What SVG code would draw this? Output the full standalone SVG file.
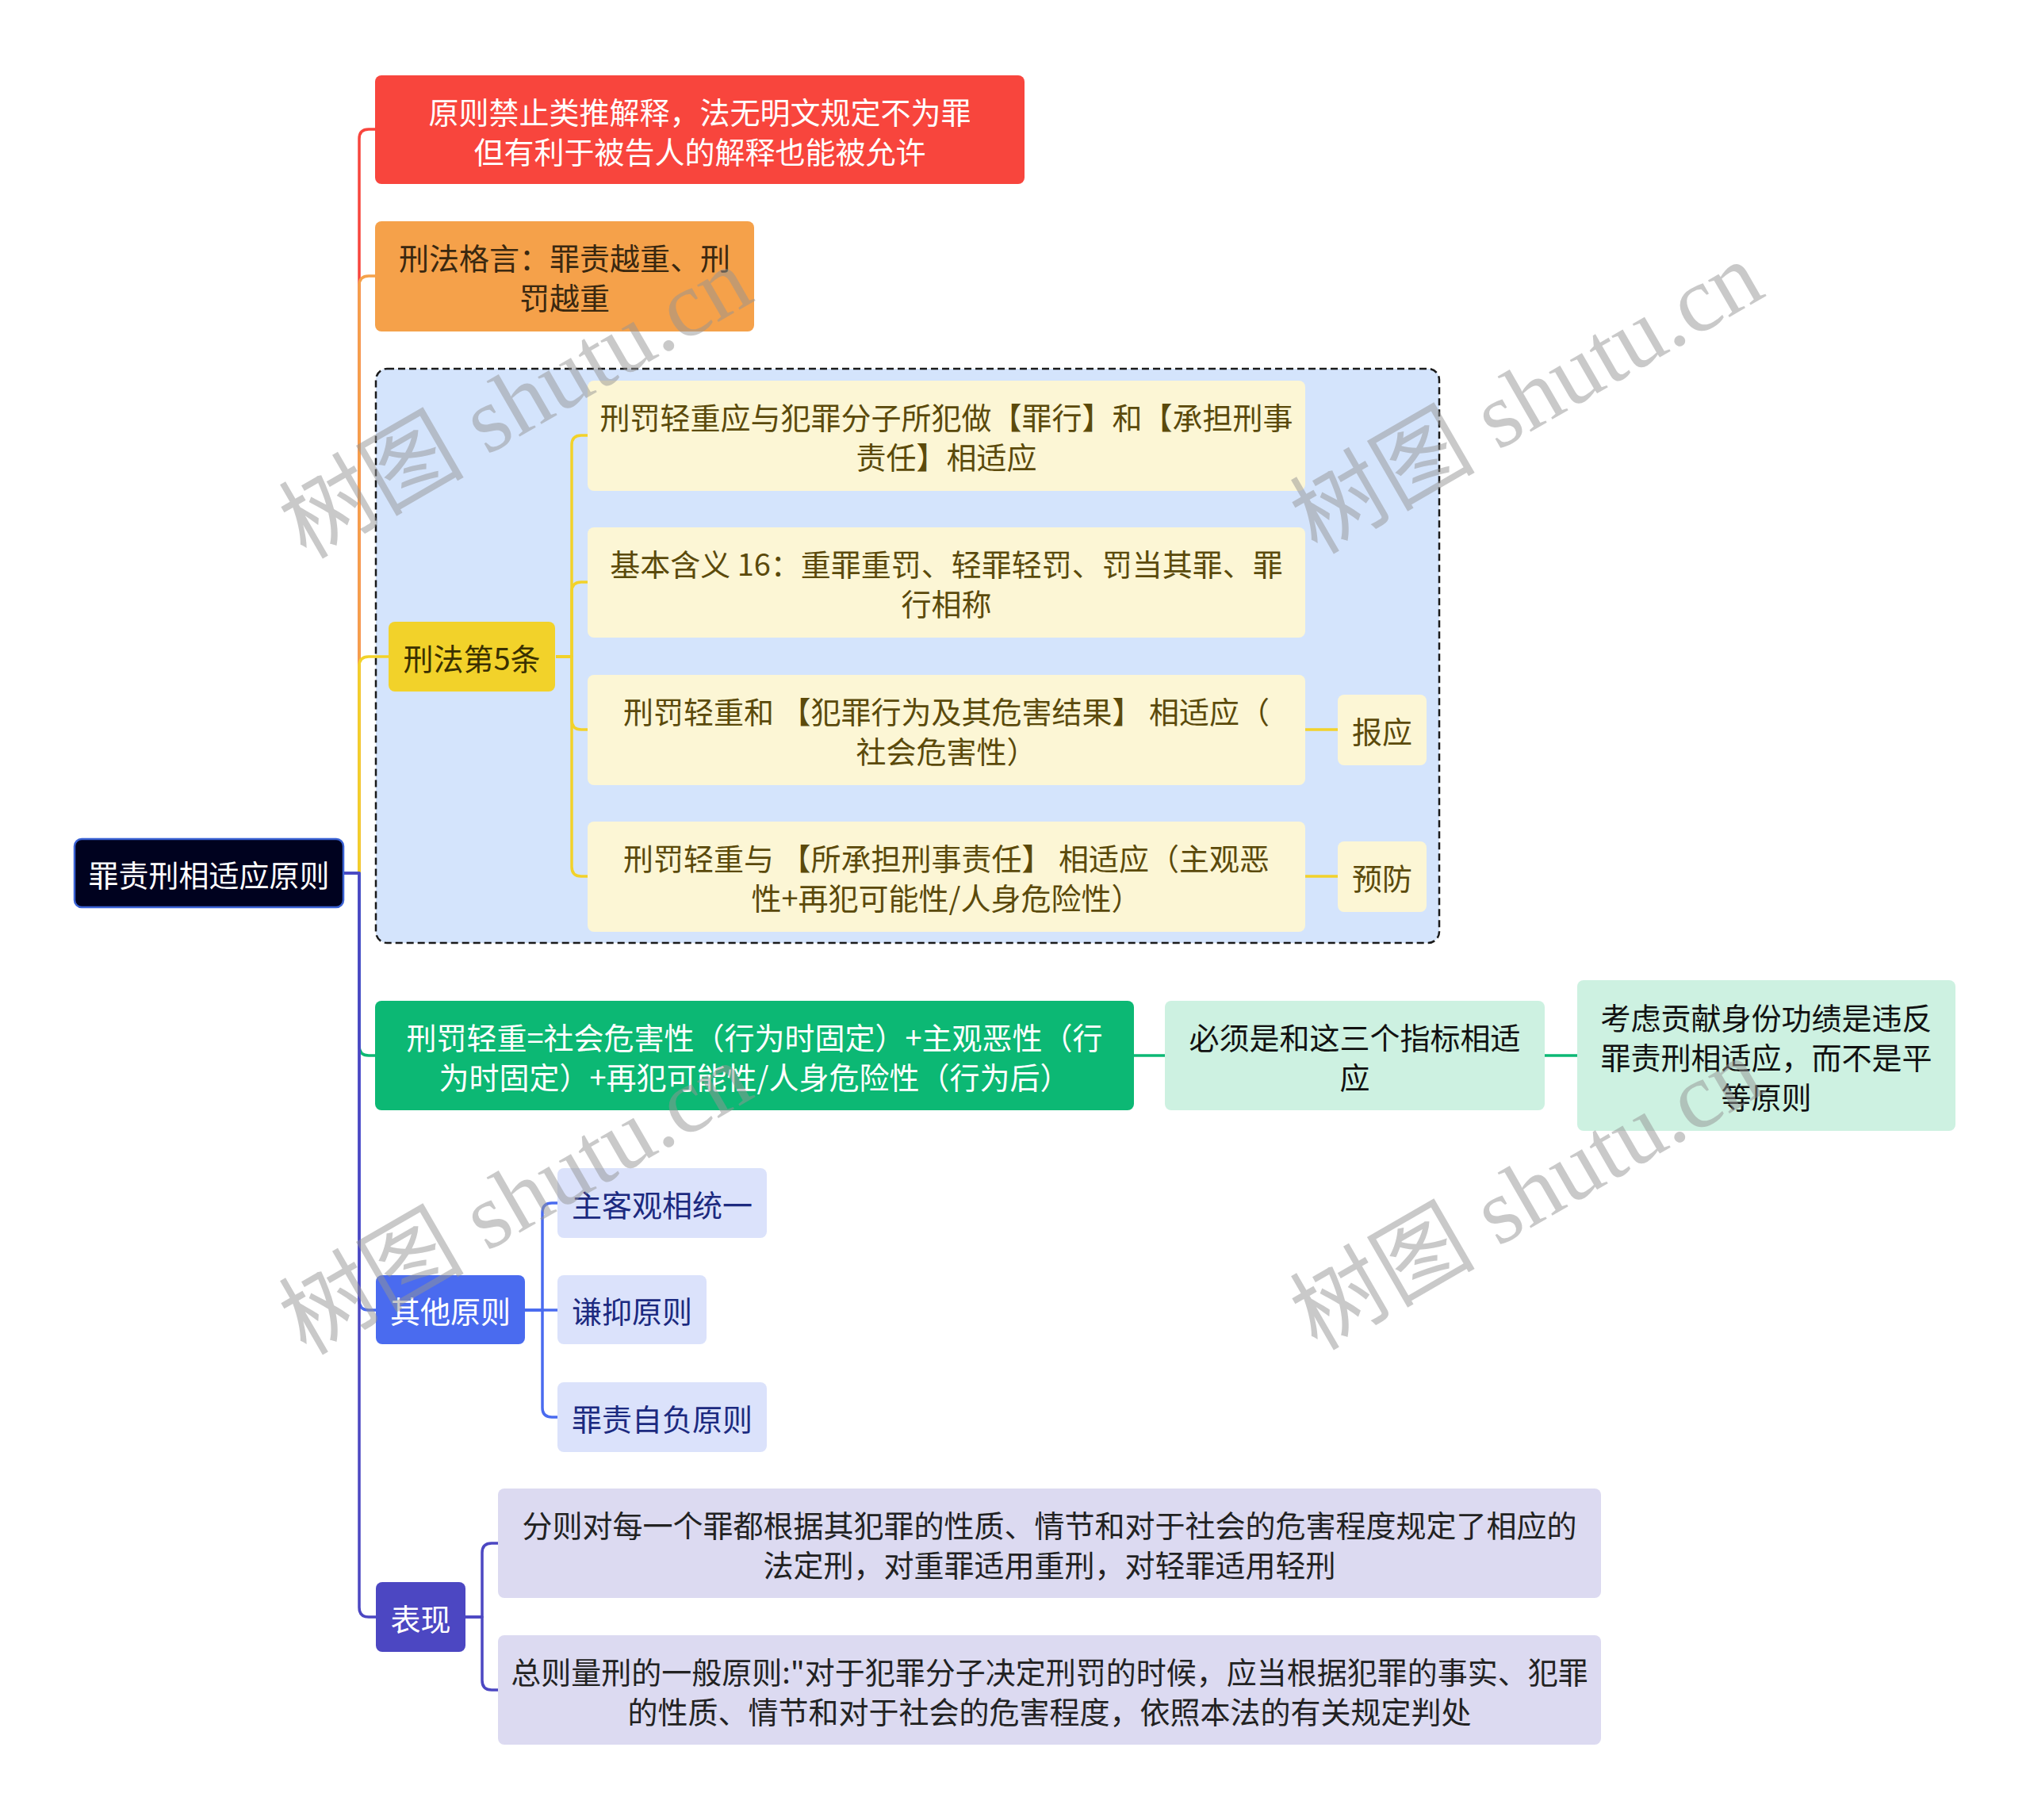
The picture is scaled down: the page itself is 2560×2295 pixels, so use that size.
<svg xmlns="http://www.w3.org/2000/svg" width="2560" height="2295" viewBox="0 0 2560 2295">
<style>
text{font-family:"Noto Sans CJK SC","Noto Sans",sans-serif;font-size:38px;text-anchor:middle;dominant-baseline:central}
.c{fill:none;stroke-width:3.5;stroke-linejoin:round}
.wm{font-family:"Liberation Serif","Noto Sans CJK SC",serif;font-size:117px;fill:#959595;opacity:0.5;dominant-baseline:alphabetic}
</style>
<rect width="2560" height="2295" fill="#ffffff"/>
<g id="group-xingfa5">
<rect x="474" y="465" width="1341" height="724" rx="14" fill="#D4E4FC" stroke="#1a1a1a" stroke-width="2.5" stroke-dasharray="9,5"/>
</g>
<g id="connectors">
<path class="c" stroke="#F8453D" d="M433,1101 H453 V175 Q453,163 465,163 H473"/>
<path class="c" stroke="#F5A14A" d="M433,1101 H453 V360 Q453,348 465,348 H473"/>
<path class="c" stroke="#F2D22A" d="M433,1101 H453 V840 Q453,828 465,828 H490"/>
<path class="c" stroke="#0CB874" d="M433,1101 H453 V1319 Q453,1331 465,1331 H473"/>
<path class="c" stroke="#4A6BEF" d="M433,1101 H453 V1640 Q453,1652 465,1652 H474"/>
<path class="c" stroke="#4C47C2" d="M433,1101 H453 V2027 Q453,2039 465,2039 H474"/>
<path class="c" stroke="#F2D22A" d="M701,828 H721 V561 Q721,549 733,549 H741"/>
<path class="c" stroke="#F2D22A" d="M701,828 H721 V746 Q721,734 733,734 H741"/>
<path class="c" stroke="#F2D22A" d="M701,828 H721 V908 Q721,920 733,920 H741"/>
<path class="c" stroke="#F2D22A" d="M701,828 H721 V1093 Q721,1105 733,1105 H741"/>
<path class="c" stroke="#F2D22A" d="M1646,920 H1687"/>
<path class="c" stroke="#F2D22A" d="M1646,1105 H1687"/>
<path class="c" stroke="#0CB874" d="M1430,1331 H1469"/>
<path class="c" stroke="#0CB874" d="M1948,1331 H1989"/>
<path class="c" stroke="#4A6BEF" d="M662,1652 H684 V1529 Q684,1517 696,1517 H703"/>
<path class="c" stroke="#4A6BEF" d="M662,1652 H703"/>
<path class="c" stroke="#4A6BEF" d="M662,1652 H684 V1775 Q684,1787 696,1787 H703"/>
<path class="c" stroke="#4C47C2" d="M587,2039 H608 V1958 Q608,1946 620,1946 H628"/>
<path class="c" stroke="#4C47C2" d="M587,2039 H608 V2119 Q608,2131 620,2131 H628"/>
</g>
<g id="root">
<rect x="94" y="1058" width="339" height="86" rx="9" fill="#00021F" stroke="#3A62D4" stroke-width="2.5"/>
<text x="263.5" y="1101" fill="#ffffff" font-size="40">罪责刑相适应原则</text>
</g>
<g id="n-red">
<rect x="473" y="95" width="819" height="137" rx="8" fill="#F8453D"/>
<text x="882.5" y="139" fill="#ffffff">原则禁止类推解释，法无明文规定不为罪</text>
<text x="882.5" y="189" fill="#ffffff">但有利于被告人的解释也能被允许</text>
</g>
<g id="n-orange">
<rect x="473" y="279" width="478" height="139" rx="8" fill="#F5A14A"/>
<text x="712" y="323.5" fill="#3a2810">刑法格言：罪责越重、刑</text>
<text x="712" y="373.5" fill="#3a2810">罚越重</text>
</g>
<g id="n-xingfa5">
<rect x="490" y="784" width="210" height="88" rx="8" fill="#F2D22A"/>
<text x="595" y="828" fill="#3a3000">刑法第5条</text>
</g>
<g id="n-b1">
<rect x="741" y="480" width="905" height="139" rx="8" fill="#FCF6D5"/>
<text x="1193.5" y="524.5" fill="#5b4a0b">刑罚轻重应与犯罪分子所犯做【罪行】和【承担刑事</text>
<text x="1193.5" y="574.5" fill="#5b4a0b">责任】相适应</text>
</g>
<g id="n-b2">
<rect x="741" y="665" width="905" height="139" rx="8" fill="#FCF6D5"/>
<text x="1193.5" y="709.5" fill="#5b4a0b">基本含义 16：重罪重罚、轻罪轻罚、罚当其罪、罪</text>
<text x="1193.5" y="759.5" fill="#5b4a0b">行相称</text>
</g>
<g id="n-b3">
<rect x="741" y="851" width="905" height="139" rx="8" fill="#FCF6D5"/>
<text x="1193.5" y="895.5" fill="#5b4a0b">刑罚轻重和 【犯罪行为及其危害结果】 相适应（</text>
<text x="1193.5" y="945.5" fill="#5b4a0b">社会危害性）</text>
</g>
<g id="n-b4">
<rect x="741" y="1036" width="905" height="139" rx="8" fill="#FCF6D5"/>
<text x="1193.5" y="1080.5" fill="#5b4a0b">刑罚轻重与 【所承担刑事责任】 相适应（主观恶</text>
<text x="1193.5" y="1130.5" fill="#5b4a0b">性+再犯可能性/人身危险性）</text>
</g>
<g id="n-baoying">
<rect x="1687" y="876" width="112" height="89" rx="8" fill="#FCF6D5"/>
<text x="1743" y="920.5" fill="#5b4a0b">报应</text>
</g>
<g id="n-yufang">
<rect x="1687" y="1061" width="112" height="89" rx="8" fill="#FCF6D5"/>
<text x="1743" y="1105.5" fill="#5b4a0b">预防</text>
</g>
<g id="n-green">
<rect x="473" y="1262" width="957" height="138" rx="8" fill="#0CB874"/>
<text x="951.5" y="1306" fill="#ffffff">刑罚轻重=社会危害性（行为时固定）+主观恶性（行</text>
<text x="951.5" y="1356" fill="#ffffff">为时固定）+再犯可能性/人身危险性（行为后）</text>
</g>
<g id="n-must">
<rect x="1469" y="1262" width="479" height="138" rx="8" fill="#CDF1E1"/>
<text x="1708.5" y="1306" fill="#111111">必须是和这三个指标相适</text>
<text x="1708.5" y="1356" fill="#111111">应</text>
</g>
<g id="n-consider">
<rect x="1989" y="1236" width="477" height="190" rx="8" fill="#CDF1E1"/>
<text x="2227.5" y="1281" fill="#111111">考虑贡献身份功绩是违反</text>
<text x="2227.5" y="1331" fill="#111111">罪责刑相适应，而不是平</text>
<text x="2227.5" y="1381" fill="#111111">等原则</text>
</g>
<g id="n-other">
<rect x="474" y="1608" width="188" height="87" rx="8" fill="#4A6BEF"/>
<text x="568" y="1651.5" fill="#ffffff">其他原则</text>
</g>
<g id="n-o1">
<rect x="703" y="1473" width="264" height="88" rx="8" fill="#DBE2FB"/>
<text x="835" y="1517" fill="#1c2a80">主客观相统一</text>
</g>
<g id="n-o2">
<rect x="703" y="1608" width="188" height="87" rx="8" fill="#DBE2FB"/>
<text x="797" y="1651.5" fill="#1c2a80">谦抑原则</text>
</g>
<g id="n-o3">
<rect x="703" y="1743" width="264" height="88" rx="8" fill="#DBE2FB"/>
<text x="835" y="1787" fill="#1c2a80">罪责自负原则</text>
</g>
<g id="n-biaoxian">
<rect x="474" y="1995" width="113" height="88" rx="8" fill="#4C47C2"/>
<text x="530.5" y="2039" fill="#ffffff">表现</text>
</g>
<g id="n-bx1">
<rect x="628" y="1877" width="1391" height="138" rx="8" fill="#DCDAF1"/>
<text x="1323.5" y="1921" fill="#222222">分则对每一个罪都根据其犯罪的性质、情节和对于社会的危害程度规定了相应的</text>
<text x="1323.5" y="1971" fill="#222222">法定刑，对重罪适用重刑，对轻罪适用轻刑</text>
</g>
<g id="n-bx2">
<rect x="628" y="2062" width="1391" height="138" rx="8" fill="#DCDAF1"/>
<text x="1323.5" y="2106" fill="#222222">总则量刑的一般原则:"对于犯罪分子决定刑罚的时候，应当根据犯罪的事实、犯罪</text>
<text x="1323.5" y="2156" fill="#222222">的性质、情节和对于社会的危害程度，依照本法的有关规定判处</text>
</g>
<g id="watermarks">
<text class="wm" transform="translate(670,542) rotate(-30)">树图 shutu.cn</text>
<text class="wm" transform="translate(1945,536) rotate(-30)">树图 shutu.cn</text>
<text class="wm" transform="translate(670,1546) rotate(-30)">树图 shutu.cn</text>
<text class="wm" transform="translate(1945,1540) rotate(-30)">树图 shutu.cn</text>
</g>
</svg>
